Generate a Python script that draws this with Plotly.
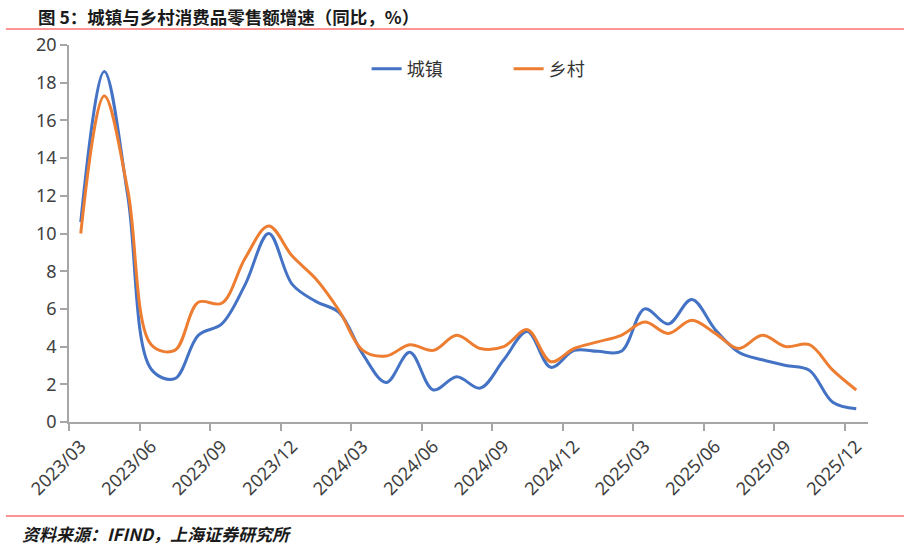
import plotly.graph_objects as go

months = [
    "2023/03", "2023/04", "2023/05", "2023/06", "2023/07", "2023/08",
    "2023/09", "2023/10", "2023/11", "2023/12", "2024/01", "2024/02",
    "2024/03", "2024/04", "2024/05", "2024/06", "2024/07", "2024/08",
    "2024/09", "2024/10", "2024/11", "2024/12", "2025/01", "2025/02",
    "2025/03", "2025/04", "2025/05", "2025/06", "2025/07", "2025/08",
    "2025/09", "2025/10", "2025/11", "2025/12",
]

# 城镇
urban = [
    10.6, 18.6, 12.0, 2.8, 2.3, 4.6, 5.2, 7.3, 10.0, 7.3, 6.4, 5.8,
    3.6, 2.1, 3.7, 1.7, 2.4, 1.8, 3.3, 4.8, 2.9, 3.8, 3.75, 3.75,
    6.0, 5.2, 6.5, 4.9, 3.7, 3.3, 3.0, 2.75, 1.05, 0.7,
]

# 乡村
rural = [
    10.0, 17.3, 12.3, 4.1, 3.8, 6.35, 6.3, 8.7, 10.4, 8.8, 7.6, 5.9,
    3.8, 3.5, 4.1, 3.8, 4.6, 3.9, 4.0, 4.9, 3.2, 3.9, 4.25, 4.6,
    5.3, 4.7, 5.4, 4.7, 3.9, 4.6, 4.0, 4.1, 2.75, 1.7,
]

idx = list(range(len(months)))

CJK = "Noto Sans CJK SC"

fig = go.Figure()
fig.add_trace(go.Scatter(
    x=idx, y=urban, name="城镇", mode="lines",
    line=dict(color="#4472C4", width=3, shape="spline", smoothing=1.0),
))
fig.add_trace(go.Scatter(
    x=idx, y=rural, name="乡村", mode="lines",
    line=dict(color="#ED7D31", width=3, shape="spline", smoothing=1.0),
))

fig.update_layout(
    width=904, height=550,
    margin=dict(l=69, r=36, t=45, b=128),
    plot_bgcolor="white", paper_bgcolor="white",
    font=dict(family=CJK, color="#404040"),
    showlegend=True,
    legend=dict(
        orientation="h", x=0.3725, y=0.936, xanchor="left", yanchor="middle",
        font=dict(family=CJK, size=18, color="#333333"),
        entrywidth=97, entrywidthmode="pixels",
        bgcolor="rgba(0,0,0,0)",
    ),
)

fig.update_xaxes(
    range=[-0.5, len(months) - 0.5],
    tickmode="array", tickvals=idx[::3], ticktext=months[::3],
    tickangle=-45, ticks="", ticklabelstandoff=5,
    tickfont=dict(family="Noto Sans", size=18, color="#404040"),
    showline=True, linecolor="#a6a6a6", linewidth=1.5,
    showgrid=False, zeroline=False,
    minor=dict(ticks="outside", tickmode="array",
               tickvals=[i - 0.5 for i in idx[::3]],
               ticklen=7, tickcolor="#a6a6a6", tickwidth=1.5, showgrid=False),
)
fig.update_yaxes(
    range=[0, 20], dtick=2, ticks="outside", ticklen=7,
    tickcolor="#a6a6a6", tickwidth=1.5,
    tickfont=dict(family="Noto Sans", size=18, color="#404040"),
    showline=True, linecolor="#a6a6a6", linewidth=1.5,
    showgrid=False, zeroline=False,
)

# title, source and red rules
fig.add_annotation(
    text="<b>图 5：城镇与乡村消费品零售额增速（同比，%）</b>",
    xref="paper", yref="paper", x=-0.0413, y=1.0769,
    xanchor="left", yanchor="middle", showarrow=False,
    font=dict(family=CJK, size=17.5, color="#1a1a1a"),
)
fig.add_annotation(
    text="<b>资料来源：IFIND，上海证券研究所</b>",
    xref="paper", yref="paper", x=-0.0613, y=-0.297,
    xanchor="left", yanchor="middle", showarrow=False,
    font=dict(family=CJK, size=17, color="#1a1a1a", style="italic"),
)
for yy in (1.0424, -0.2493):
    fig.add_shape(
        type="line", xref="paper", yref="paper",
        x0=-0.079, x1=1.05, y0=yy, y1=yy,
        line=dict(color="#ff7070", width=1.5),
    )

# drop the default 8px page margin so the figure fills the window
fig.write_html(
    "out.html",
    config={"displayModeBar": False},
    post_script="document.body.style.margin='0';",
)
